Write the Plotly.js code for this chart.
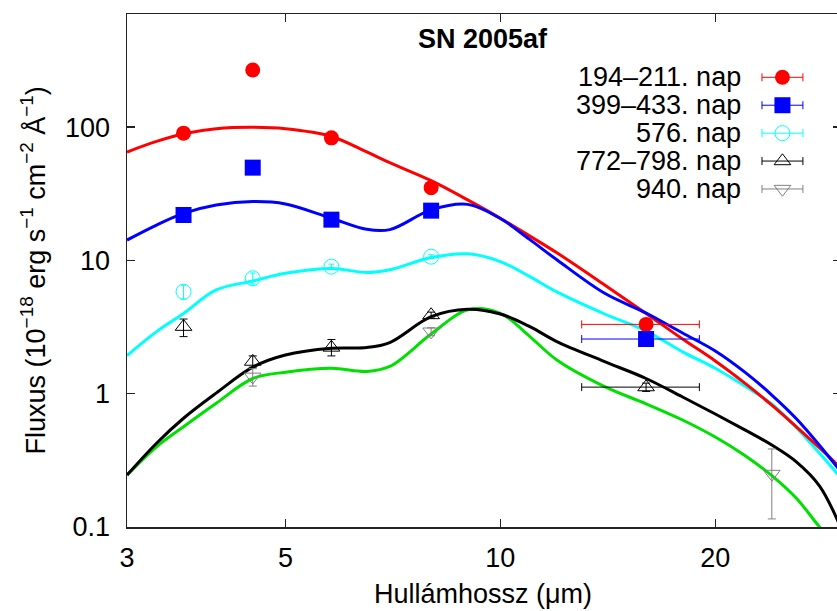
<!DOCTYPE html>
<html>
<head>
<meta charset="utf-8">
<script src="https://cdn.plot.ly/plotly-3.0.1.min.js"></script>
<style>html,body{margin:0;padding:0;overflow:hidden;background:#fff;}</style>
</head>
<body>
<div id="chart" style="width:845px;height:611px;"></div>
<script>
// ---- model curves (wavelength in micron, flux in 1e-18 erg/s/cm2/A) ----
const modelX    = [3, 3.3, 3.6, 4.0, 4.5, 5.0, 5.8, 6.5, 7.0, 8.0, 9.0, 10, 11, 12, 14, 16, 18, 20, 22, 24, 26, 28, 30];
const modelRed  = [65, 78, 89, 97, 99.5, 97, 85, 65, 54, 39.6, 28.4, 20.7, 15.2, 11.4, 6.54, 4.0, 2.57, 1.76, 1.20, 0.82, 0.562, 0.392, 0.277];
const modelBlue = [14.2, 18.4, 22.5, 26, 27.6, 26.5, 20.7, 17.1, 17.0, 23.9, 26.3, 20.6, 14.3, 10.1, 5.66, 4.03, 2.85, 2.09, 1.45, 0.977, 0.646, 0.409, 0.259];
const modelCyan = [1.93, 2.92, 4.0, 6.0, 7.0, 8.0, 8.7, 8.1, 8.5, 10.5, 11.2, 9.8, 7.55, 5.8, 3.96, 2.95, 2.06, 1.55, 1.14, 0.837, 0.553, 0.357, 0.233];
const modelBlack= [0.245, 0.425, 0.654, 1.01, 1.58, 1.95, 2.19, 2.22, 2.42, 3.78, 4.3, 3.96, 3.18, 2.46, 1.74, 1.30, 0.944, 0.704, 0.535, 0.412, 0.307, 0.203, 0.098];
const modelGreen= [0.245, 0.40, 0.565, 0.847, 1.3, 1.45, 1.55, 1.47, 1.6, 2.8, 4.25, 4.01, 2.68, 1.79, 1.13, 0.84, 0.635, 0.473, 0.344, 0.243, 0.1636, 0.1, 0.0672];

// ---- observations ----
const obsAX = [3.6, 4.5, 5.8, 8.0, 16];          // 194–211. nap
const obsAY = [90, 268, 83, 35.1, 3.31];
const obsAXerr = [NaN, NaN, NaN, NaN, 3];

const obsBX = [3.6, 4.5, 5.8, 8.0, 16];          // 399–433. nap
const obsBY = [21.9, 49.6, 20.2, 23.6, 2.57];
const obsBXerr = [NaN, NaN, NaN, NaN, 3];

const obsCX = [3.6, 4.5, 5.8, 8.0];              // 576. nap
const obsCY = [5.82, 7.34, 8.97, 10.66];
const obsCYerr = [0.7, 0.7, 0.4, 0.35];

const obsDX = [3.6, 4.5, 5.8, 8.0, 16];          // 772–798. nap
const obsDY = [3.18, 1.74, 2.22, 3.89, 1.12];
const obsDYerrPlus  = [0.45, 0.18, 0.33, 0.2, 0.08];
const obsDYerrMinus = [0.5, 0.16, 0.3, 0.2, 0.08];
const obsDXerr = [NaN, NaN, NaN, NaN, 3];

const obsEX = [4.5, 8.0, 24];                    // 940. nap
const obsEY = [1.34, 2.92, 0.25];
const obsEYerr = [0.2, 0.2, 0.135];

const legendLabels = ["194–211. nap", "399–433. nap", "576. nap", "772–798. nap", "940. nap"];
const xTickVals = [3, 5, 10, 20];
const xTickText = ["3", "5", "10", "20"];
const yTickVals = [0.1, 1, 10, 100];
const yTickText = ["0.1", "1", "10", "100"];

const FONT = "Liberation Sans, Arial, Helvetica, sans-serif";
const RED = "#ff0000", BLUE = "#0000ff", CYAN = "#00ffff", BLACK = "#000000", GRAY = "#808080", GREEN = "#00e000";

function curve(x, y, color) {
  return {x: x, y: y, type: "scatter", mode: "lines", line: {color: color, width: 3, shape: "spline", smoothing: 1}, hoverinfo: "skip", showlegend: false};
}
const traces = [
  curve(modelX, modelGreen, GREEN),
  curve(modelX, modelBlack, BLACK),
  curve(modelX, modelCyan, CYAN),
  curve(modelX, modelRed, RED),
  curve(modelX, modelBlue, BLUE),
  {x: obsAX, y: obsAY, type: "scatter", mode: "markers", showlegend: false,
   marker: {symbol: "circle", size: 15, color: RED, line: {width: 0}},
   error_x: {type: "data", array: obsAXerr, color: RED, thickness: 1, width: 4}},
  {x: obsBX, y: obsBY, type: "scatter", mode: "markers", showlegend: false,
   marker: {symbol: "square", size: 16, color: BLUE, line: {width: 0}},
   error_x: {type: "data", array: obsBXerr, color: BLUE, thickness: 1, width: 4}},
  {x: obsCX, y: obsCY, type: "scatter", mode: "markers", showlegend: false,
   marker: {symbol: "circle-open", size: 15, color: CYAN, line: {width: 1, color: CYAN}},
   error_y: {type: "data", array: obsCYerr, color: CYAN, thickness: 1, width: 3}},
  {x: obsDX, y: obsDY, type: "scatter", mode: "markers", showlegend: false,
   marker: {symbol: "triangle-up-open", size: 14.5, color: BLACK, line: {width: 1, color: BLACK}},
   error_y: {type: "data", symmetric: false, array: obsDYerrPlus, arrayminus: obsDYerrMinus, color: BLACK, thickness: 1, width: 4},
   error_x: {type: "data", array: obsDXerr, color: BLACK, thickness: 1, width: 4}},
  {x: obsEX, y: obsEY, type: "scatter", mode: "markers", showlegend: false,
   marker: {symbol: "triangle-down-open", size: 14.5, color: GRAY, line: {width: 1, color: GRAY}},
   error_y: {type: "data", array: obsEYerr, color: GRAY, thickness: 1, width: 4}}
];

// custom legend keys (symbol to the right of the text)
const keyStyles = [
  {symbol: "circle", size: 15, color: RED, lc: RED, lw: 0},
  {symbol: "square", size: 16, color: BLUE, lc: BLUE, lw: 0},
  {symbol: "circle-open", size: 15, color: CYAN, lc: CYAN, lw: 1},
  {symbol: "triangle-up-open", size: 14.5, color: BLACK, lc: BLACK, lw: 1},
  {symbol: "triangle-down-open", size: 14.5, color: GRAY, lc: GRAY, lw: 1}
];
keyStyles.forEach((s, i) => {
  traces.push({x: [0], y: [i + 1], xaxis: "x2", yaxis: "y2", type: "scatter", mode: "markers",
    showlegend: false, hoverinfo: "skip", cliponaxis: false,
    marker: {symbol: s.symbol, size: s.size, color: s.color, line: {width: s.lw, color: s.lc}},
    error_x: {type: "data", array: [1], color: s.lc, thickness: 1, width: 4}});
});

const annotations = legendLabels.map((t, i) => ({
  text: t, xref: "paper", yref: "y2", x: 0.8627, y: i + 1, xanchor: "right", yanchor: "middle",
  showarrow: false, font: {family: FONT, size: 27, color: "#000"}
}));
annotations.push({text: "<b>SN 2005af</b>", xref: "paper", yref: "paper", x: 0.4986, y: 0.951,
  xanchor: "center", yanchor: "middle", showarrow: false, font: {family: FONT, size: 27, color: "#000"}});
annotations.push({text: "Fluxus (10<sup>−18</sup> erg s<sup>−1</sup> cm<sup>−2</sup> Å<sup>−1</sup>)",
  xref: "paper", yref: "paper", x: -0.1317, y: 0.5, textangle: -90, xanchor: "center", yanchor: "middle",
  showarrow: false, font: {family: FONT, size: 27, color: "#000"}});
annotations.push({text: "Hullámhossz (μm)", xref: "paper", yref: "paper", x: 0.4986, y: -0.1306,
  xanchor: "center", yanchor: "middle", showarrow: false, font: {family: FONT, size: 27, color: "#000"}});

const axisCommon = {
  showgrid: false, zeroline: false, showline: true, linecolor: "#222", linewidth: 1.5,
  mirror: "ticks", ticks: "inside", ticklen: 8, tickwidth: 1.5, tickcolor: "#222",
  tickfont: {family: FONT, size: 27, color: "#000"}
};

const layout = {
  width: 845, height: 611,
  margin: {l: 127, r: 4, t: 14, b: 84, pad: 0},
  paper_bgcolor: "#fff", plot_bgcolor: "#fff",
  showlegend: false,
  xaxis: Object.assign({}, axisCommon, {type: "log", range: [Math.log10(3), Math.log10(30)],
    tickmode: "array", tickvals: xTickVals, ticktext: xTickText, ticklabelstandoff: 6}),
  yaxis: Object.assign({}, axisCommon, {type: "log", range: [-1, 2.848],
    tickmode: "array", tickvals: yTickVals, ticktext: yTickText, ticklabelstandoff: 10}),
  xaxis2: {domain: [0.875, 0.961], range: [-1.5, 1.5], visible: false, anchor: "y2", fixedrange: true},
  yaxis2: {domain: [0.6317, 0.9038], range: [5.5, 0.5], visible: false, anchor: "x2", fixedrange: true},
  annotations: annotations
};

Plotly.newPlot("chart", traces, layout, {displayModeBar: false, staticPlot: true});
</script>
</body>
</html>
